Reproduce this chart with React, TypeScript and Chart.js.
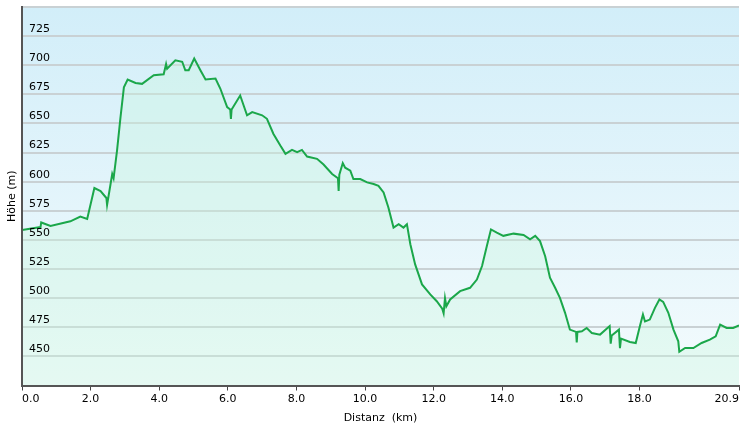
import { useEffect, useRef } from 'react';
import { Chart, registerables } from 'chart.js';

Chart.register(...registerables);

const distanceKm = [
  0, 0.54, 0.56, 0.83, 1.41, 1.7, 1.9, 2.11, 2.29, 2.46, 2.48, 2.63, 2.67, 2.77, 2.87, 2.97,
  3.08, 3.31, 3.5, 3.84, 4.13, 4.2, 4.23, 4.47, 4.67, 4.76, 4.86, 5.02, 5.2, 5.35, 5.64, 5.78,
  5.98, 6.07, 6.09, 6.11, 6.36, 6.56, 6.71, 7.0, 7.14, 7.33, 7.53, 7.68, 7.87, 8.02, 8.16, 8.31,
  8.6, 8.79, 9.04, 9.21, 9.23, 9.25, 9.35, 9.42, 9.57, 9.66, 9.86, 10.06, 10.25, 10.39, 10.54,
  10.68, 10.83, 10.98, 11.12, 11.22, 11.32, 11.46, 11.66, 11.9, 12.09, 12.25, 12.29, 12.33,
  12.37, 12.48, 12.77, 13.06, 13.26, 13.41, 13.55, 13.67, 13.84, 14.03, 14.33, 14.62, 14.81,
  14.96, 15.1, 15.25, 15.39, 15.54, 15.68, 15.83, 15.97, 16.15, 16.17, 16.19, 16.32, 16.46,
  16.61, 16.85, 17.13, 17.16, 17.19, 17.4, 17.43, 17.46, 17.72, 17.89, 18.01, 18.1, 18.16,
  18.3, 18.45, 18.58, 18.69, 18.84, 18.99, 19.13, 19.16, 19.33, 19.57, 19.81, 20.05, 20.22,
  20.35, 20.54, 20.73, 20.9,
];

const elevationM = [
  558.6, 561, 565, 562, 566, 570, 568, 594.6, 592, 586, 580, 606.6, 603, 626.7, 655, 681,
  687.7, 684.8, 684, 691.4, 692.2, 701, 697, 704.3, 703, 695.7, 695.7, 705.8, 695.7, 687.7, 688.5, 680,
  664, 662, 654, 662, 674, 657, 659.8, 657, 654, 641, 631, 623.9, 627.3, 625.3, 627.3, 621.6,
  619.6, 614.7, 606.6, 603, 592, 606, 616, 612, 609.5, 602.3, 602.3, 599.4, 598, 596.5, 590.8,
  577.9, 560.6, 563.5, 560.6, 563.5, 546.3, 529, 511.8, 503.2, 497.4, 491, 487, 500,
  493, 498.9, 506, 508.9, 516, 527.6, 544.8, 559, 556.3, 553.5, 555.4, 554.3, 550.6,
  553.5, 549, 536, 517.5, 508.9, 500.3, 487.4, 473, 471, 462, 471, 471.6, 474.4,
  470.1, 468.7, 476, 461, 468, 473, 457, 465.3, 462.4, 461.5, 475.9, 486, 480,
  481.6, 491.7, 498.9, 496.8, 487.4, 473, 462.9, 454, 457.2, 457.2, 461.5, 464.4, 467.2,
  477.3, 474.4, 474.4, 476.7,
];

const xTickValues = [0, 2, 4, 6, 8, 10, 12, 14, 16, 18, 20.9];
const yMin = 425;
const yMax = 750;
const yStep = 25;
const yUnlabelled = [425, 750];
const xTitle = 'Distanz  (km)';
const yTitle = 'Höhe (m)';

export default function App() {
  const ref = useRef<HTMLCanvasElement>(null);

  useEffect(() => {
    const canvas = ref.current;
    if (!canvas) return;
    const font = { family: '"DejaVu Sans", Verdana, sans-serif', size: 11 };

    const background = {
      id: 'bgGradient',
      beforeDraw(chart: any) {
        const { ctx, chartArea: a } = chart;
        const g = ctx.createLinearGradient(0, a.top, 0, a.bottom);
        g.addColorStop(0, '#d2eef9');
        g.addColorStop(1, '#f4fbfd');
        ctx.save();
        ctx.fillStyle = g;
        ctx.fillRect(a.left, a.top, a.right - a.left, a.bottom - a.top);
        ctx.restore();
      },
    };

    const chart = new Chart(canvas, {
      type: 'line',
      data: {
        datasets: [
          {
            data: distanceKm.map((x, i) => ({ x, y: elevationM[i] })),
            borderColor: '#1ba74a',
            borderWidth: 2,
            pointRadius: 0,
            fill: 'start',
            backgroundColor: 'rgba(200,245,220,0.35)',
            tension: 0,
          },
        ],
      },
      options: {
        responsive: false,
        animation: false,
        layout: { padding: { top: 7, right: 3, left: 0, bottom: 0 } },
        plugins: { legend: { display: false }, tooltip: { enabled: false } },
        scales: {
          x: {
            type: 'linear',
            min: 0,
            max: 20.9,
            afterBuildTicks: (s: any) => {
              s.ticks = xTickValues.map((v) => ({ value: v }));
            },
            afterFit: (s: any) => {
              s.height = 45.5;
              s.paddingLeft = 0;
              s.paddingRight = 0;
            },
            ticks: {
              callback: (v: any) => Number(v).toFixed(1),
              font,
              color: '#000',
              padding: 2,
              align: 'inner',
              maxRotation: 0,
              autoSkip: false,
            },
            grid: { drawOnChartArea: false, drawTicks: true, tickLength: 5, color: '#444', lineWidth: 1 },
            border: { display: true, color: '#555', width: 2, z: 1 },
            title: { display: true, text: xTitle, font, color: '#000', padding: { top: 0, bottom: 6 } },
          },
          y: {
            min: yMin,
            max: yMax,
            afterFit: (s: any) => {
              s.width = 22;
              s.paddingTop = 0;
              s.paddingBottom = 0;
            },
            ticks: {
              stepSize: yStep,
              mirror: true,
              padding: 7,
              labelOffset: -7,
              z: 1,
              callback: (v: any) => (yUnlabelled.includes(Number(v)) ? '' : String(v)),
              font,
              color: '#000',
            },
            grid: { color: '#c9d1d4', lineWidth: 2, drawTicks: false },
            border: { display: true, color: '#555', width: 2, z: 1 },
            title: { display: true, text: yTitle, font, color: '#000', padding: { top: 6, bottom: 0 } },
          },
        },
      },
      plugins: [background],
    } as any);

    return () => chart.destroy();
  }, []);

  return (
    <div style={{ position: 'fixed', left: 0, top: 0, width: 742, height: 431, background: '#fff' }}>
      <canvas ref={ref} width={742} height={431} style={{ display: 'block' }} />
    </div>
  );
}
